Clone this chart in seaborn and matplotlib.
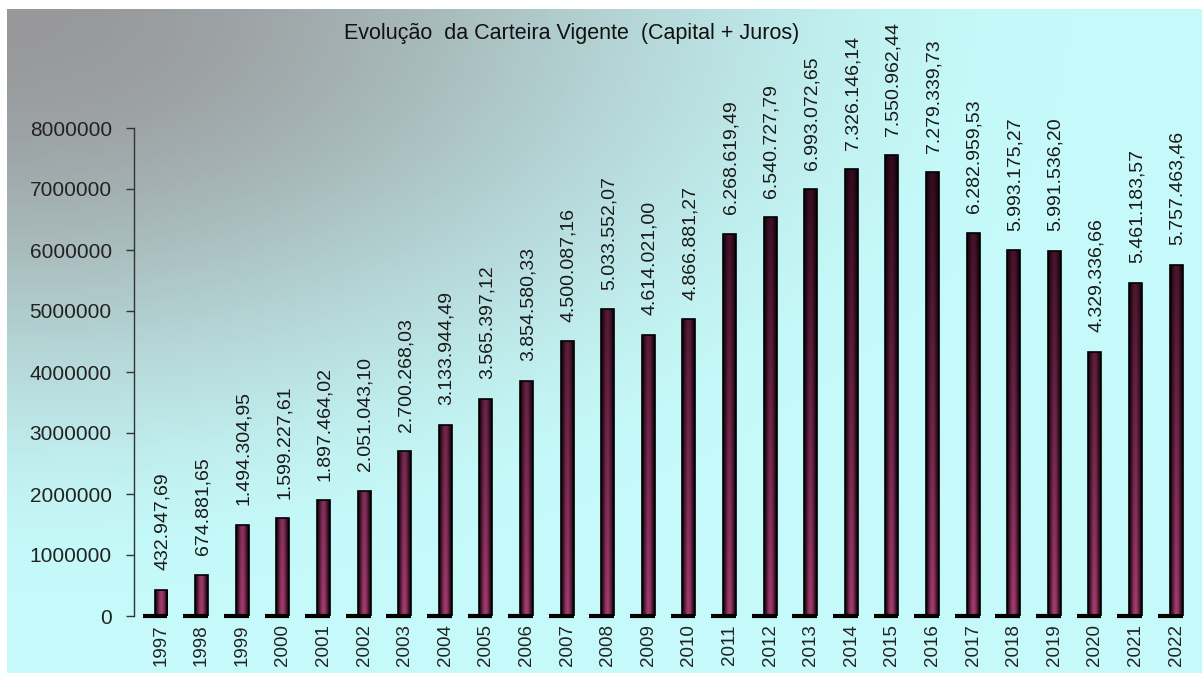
import matplotlib
matplotlib.use("Agg")
import matplotlib.pyplot as plt
import pandas as pd
import numpy as np
import seaborn as sns

sns.set_style("white")
plt.rcParams['font.family'] = ['Liberation Sans', 'DejaVu Sans']

# data
years = ['1997', '1998', '1999', '2000', '2001', '2002', '2003', '2004', '2005',
         '2006', '2007', '2008', '2009', '2010', '2011', '2012', '2013', '2014',
         '2015', '2016', '2017', '2018', '2019', '2020', '2021', '2022']
values = [432947.69, 674881.65, 1494304.95, 1599227.61, 1897464.02, 2051043.10,
          2700268.03, 3133944.49, 3565397.12, 3854580.33, 4500087.16, 5033552.07,
          4614021.00, 4866881.27, 6268619.49, 6540727.79, 6993072.65, 7326146.14,
          7550962.44, 7279339.73, 6282959.53, 5993175.27, 5991536.20, 4329336.66,
          5461183.57, 5757463.46]
yticks = [0, 1000000, 2000000, 3000000, 4000000, 5000000, 6000000, 7000000, 8000000]
title = 'Evolução  da Carteira Vigente  (Capital + Juros)'

def br_fmt(v):
    s = f"{v:,.2f}"
    return s.replace(',', '#').replace('.', ',').replace('#', '.')

df = pd.DataFrame({'Ano': years, 'Valor': values})

W, H = 1202, 673
fig = plt.figure(figsize=(W / 100, H / 100), dpi=100)
fig.patch.set_facecolor('white')

# background gradient: gray top-left fading to light cyan
bg = fig.add_axes([7 / W, -0.01, 1 - 7 / W + 0.01, (H - 9) / H + 0.01], zorder=-1)
gx, gy = np.meshgrid(np.linspace(0, 1195, 300), np.linspace(0, 664, 170))
d = np.sqrt((gx / 1050.0) ** 2 + (gy / 580.0) ** 2)
t = np.clip(d, 0, 1)
t = t * t * (3 - 2 * t)
gray = np.array([152, 152, 154]) / 255.0
cyan = np.array([198, 250, 250]) / 255.0
img = gray[None, None, :] * (1 - t[..., None]) + cyan[None, None, :] * t[..., None]
bg.imshow(img, extent=[0, 1, 0, 1], aspect='auto', origin='upper')
bg.axis('off')

ax = fig.add_axes([134 / W, 57 / H, (1196 - 134) / W, (616 - 128) / H])
ax.patch.set_alpha(0)

sns.barplot(data=df, x='Ano', y='Valor', color='#6a1f45', width=0.32,
            edgecolor='black', linewidth=1.2, ax=ax, zorder=3)

# cylinder-like shading on each bar
ymax = 8000000
for bar in ax.patches:
    x0 = bar.get_x()
    w = bar.get_width()
    h = bar.get_height()
    u = np.linspace(0, 1, 30)
    v = np.linspace(0, h / ymax, 120)
    uu, vv = np.meshgrid(u, v)
    prof = np.sin(np.pi * uu) ** 1.6
    bot = np.array([165, 60, 112]) / 255.0
    top = np.array([48, 10, 28]) / 255.0
    vv2 = np.clip(vv / 0.95, 0, 1) ** 0.9
    center = bot[None, None, :] * (1 - vv2[..., None]) + top[None, None, :] * vv2[..., None]
    edge = np.array([22, 4, 12]) / 255.0
    arr = edge[None, None, :] * (1 - prof[..., None]) + center * prof[..., None]
    im = ax.imshow(arr, extent=[x0, x0 + w, 0, h], aspect='auto', origin='lower', zorder=2)
    im.set_clip_path(bar)
    bar.set_facecolor('none')

# floor slabs and value labels
for i, val in enumerate(values):
    ax.plot([i - 0.45, i + 0.16], [0, 0], color='black', lw=3, solid_capstyle='butt',
            clip_on=False, zorder=4)
    ax.annotate(br_fmt(val), (i, val), xytext=(1, 14), textcoords='offset points',
                rotation=90, ha='center', va='bottom', fontsize=14, color='#1a1a1a',
                annotation_clip=False)

ax.set_xlim(-0.665, 25.49)
ax.set_ylim(0, ymax)
ax.set_yticks(yticks)
ax.set_yticklabels([str(v) for v in yticks], fontsize=15, color='#222222')
ax.set_xticks(range(len(years)))
ax.set_xticklabels(years, rotation=90, fontsize=13.5, color='#222222')
ax.tick_params(axis='x', length=0, pad=6)
ax.tick_params(axis='y', left=True, length=6, width=1, color='#333333', pad=10)
ax.set_xlabel('')
ax.set_ylabel('')
for s in ['top', 'right', 'bottom']:
    ax.spines[s].set_visible(False)
ax.spines['left'].set_color('#333333')
ax.spines['left'].set_linewidth(1)

fig.text(572 / W, 1 - 33 / H, title, ha='center', va='center', fontsize=15.5, color='#111111')

fig.savefig('out.png', dpi=100)
